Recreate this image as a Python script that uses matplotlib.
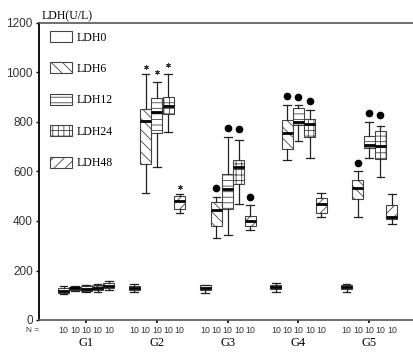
import matplotlib
matplotlib.use("Agg")
import matplotlib.pyplot as plt
from matplotlib.patches import Patch
from matplotlib.transforms import blended_transform_factory
import numpy as np

grupos = ["G1", "G2", "G3", "G4", "G5"]
series = ["LDH0", "LDH6", "LDH12", "LDH24", "LDH48"]
n_por_caja = ["10", "10", "10", "10", "10"]

# (whislo, q1, med, q3, whishi) for G1..G5
ldh0 = [(105, 109, 117, 128, 137), (114, 122, 130, 139, 145), (109, 121, 130, 140, 143),
        (114, 124, 132, 141, 151), (114, 124, 132, 141, 145)]
ldh6 = [(118, 121, 128, 135, 138), (514, 630, 804, 852, 993), (330, 380, 444, 478, 496),
        (646, 690, 754, 808, 869), (418, 489, 532, 566, 602)]
ldh12 = [(113, 118, 127, 137, 142), (620, 754, 842, 898, 963), (343, 447, 529, 589, 741),
         (722, 786, 799, 857, 867), (656, 694, 707, 745, 801)]
ldh24 = [(114, 121, 130, 141, 145), (761, 832, 865, 902, 994), (469, 548, 620, 646, 727),
         (656, 741, 792, 811, 848), (577, 649, 703, 764, 785)]
ldh48 = [(121, 128, 137, 149, 157), (434, 447, 482, 501, 509), (364, 380, 400, 421, 465),
         (415, 434, 467, 492, 514), (387, 407, 418, 465, 508)]

# extremes (*) and outliers (dots); None = no mark
extremos = {"LDH6": [None, 1023, None, None, None], "LDH12": [None, 1000, None, None, None],
            "LDH24": [None, 1030, None, None, None], "LDH48": [None, 539, None, None, None]}
atipicos = {"LDH6": [None, None, 532, 905, 636], "LDH12": [None, None, 776, 900, 838],
            "LDH24": [None, None, 772, 886, 828], "LDH48": [None, None, 496, None, None]}

datos = [ldh0, ldh6, ldh12, ldh24, ldh48]
tramas = ["", "\\\\\\", "---", "+++", "///"]

plt.rcParams["hatch.linewidth"] = 0.6
serif = ["Liberation Serif", "DejaVu Serif"]
sans = ["Liberation Sans", "DejaVu Sans"]

fig = plt.figure(figsize=(4.13, 3.52), dpi=100)
ax = fig.add_axes([39/413, 1-320/352, 1-39/413, 297/352])

paso = 0.16
ancho = 0.155
borde = "#444444"
for j, s in enumerate(series):
	pos = np.arange(len(grupos)) + (j-2)*paso
	stats = []
	for g, (lo, q1, med, q3, hi) in zip(grupos, datos[j]):
		stats.append({"whislo": lo, "q1": q1, "med": med, "q3": q3, "whishi": hi, "fliers": [], "label": g})
	r = ax.bxp(stats, positions=pos, widths=ancho, patch_artist=True, showfliers=False,
	           capwidths=ancho*0.7, manage_ticks=False,
	           boxprops=dict(facecolor="white", edgecolor=borde, linewidth=0.8),
	           medianprops=dict(color="black", linewidth=2.0),
	           whiskerprops=dict(color="#222222", linewidth=0.9),
	           capprops=dict(color="#222222", linewidth=0.9))
	for b in r["boxes"]:
		b.set_hatch(tramas[j])
	if s in extremos:
		for i in range(len(grupos)):
			if extremos[s][i] is not None:
				ax.plot(pos[i], extremos[s][i], marker=(6, 2, 0), ms=3.3, color="#333333", mew=0.6)
			if atipicos[s][i] is not None:
				ax.plot(pos[i], atipicos[s][i], marker="o", ms=4.5, color="black")

ax.set_xlim(-0.667, 4.62)
ax.set_ylim(0, 1200)
ax.set_yticks(range(0, 1201, 200))
ax.set_yticklabels([str(v) for v in range(0, 1201, 200)], family=sans, fontsize=8.5, color="#333333")
ax.tick_params(axis="y", direction="out", length=2.5, width=1, pad=2)
ax.set_xticks(range(len(grupos)))
ax.set_xticklabels([])
ax.tick_params(axis="x", direction="out", length=2, width=1.2)

ax.spines["right"].set_visible(False)
ax.spines["left"].set_color("black")
ax.spines["left"].set_linewidth(1.3)
ax.spines["top"].set_color("#555555")
ax.spines["top"].set_linewidth(1.2)
ax.spines["bottom"].set_color("#555555")
ax.spines["bottom"].set_linewidth(1.2)

tr = blended_transform_factory(ax.transData, ax.transAxes)
for i, g in enumerate(grupos):
	for j in range(len(series)):
		ax.text(i + (j-2)*paso, -0.034, n_por_caja[j], transform=tr, ha="center", va="center",
		        family=sans, fontsize=6.3, color="#333333")
	ax.text(i, -0.076, g, transform=tr, ha="center", va="center", family=serif, fontsize=9)
fig.text(33/413, 1-330/352, "N =", ha="center", va="center", family=sans, fontsize=6, color="#333333")
fig.text(42/413, 1-16/352, "LDH(U/L)", ha="left", va="center", family=serif, fontsize=8.5)

manijas = [Patch(facecolor="white", edgecolor=borde, hatch=t, linewidth=0.8) for t in tramas]
ax.legend(manijas, series, loc="upper left", bbox_to_anchor=(50/413, 1-31/352),
          bbox_transform=fig.transFigure, frameon=False, borderpad=0, borderaxespad=0,
          handlelength=1.9, handleheight=1.05, handletextpad=0.35, labelspacing=1.6,
          prop={"family": serif, "size": 8.5})

fig.savefig("out.png", dpi=100)
